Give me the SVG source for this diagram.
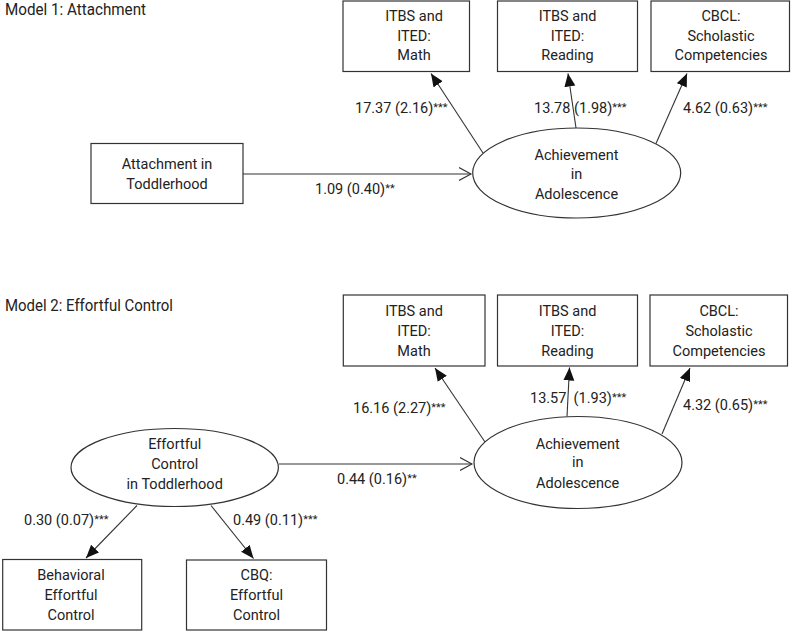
<svg xmlns="http://www.w3.org/2000/svg" width="792" height="631" viewBox="0 0 792 631">
<style>
  text { font-family: Roboto, "Liberation Sans", Arial, sans-serif; font-size: 14.5px; fill: #222; }
  .c { text-anchor: middle; }
  .title { font-size: 16px; }
  .s { font-size: 11px; }
  .box { fill: #fff; stroke: #333; stroke-width: 1.2; }
  .ell { fill: #fff; stroke: #333; stroke-width: 1.2; }
  .edge { stroke: #333; stroke-width: 1.1; fill: none; }
</style>
<defs>
  <marker id="tri" markerUnits="userSpaceOnUse" markerWidth="14" markerHeight="12" refX="13" refY="5.5" orient="auto">
    <path d="M0,0 L13,5.5 L0,11 z" fill="#111"/>
  </marker>
  <marker id="chev" markerUnits="userSpaceOnUse" markerWidth="14" markerHeight="15" refX="12.5" refY="7" orient="auto">
    <path d="M0.5,0.5 L12.5,7 L0.5,13.5" fill="none" stroke="#333" stroke-width="1.1"/>
  </marker>
</defs>
<rect width="792" height="631" fill="#fff"/>

<text x="5" y="15" class="title" textLength="141" lengthAdjust="spacingAndGlyphs">Model 1: Attachment</text>
<text x="5" y="311" class="title" textLength="168" lengthAdjust="spacingAndGlyphs">Model 2: Effortful Control</text>

<g id="connectors">
  <!-- Model 1 -->
  <line class="edge" x1="243" y1="174" x2="471" y2="174" marker-end="url(#chev)"/>
  <line class="edge" x1="483" y1="153" x2="431" y2="73.5" marker-end="url(#tri)"/>
  <line class="edge" x1="576" y1="128" x2="568" y2="73.5" marker-end="url(#tri)"/>
  <line class="edge" x1="656" y1="143.5" x2="687" y2="73.5" marker-end="url(#tri)"/>
  <!-- Model 2 -->
  <line class="edge" x1="279" y1="464" x2="472" y2="464" marker-end="url(#chev)"/>
  <line class="edge" x1="485" y1="442" x2="435" y2="368" marker-end="url(#tri)"/>
  <line class="edge" x1="567" y1="416.5" x2="569.5" y2="367.5" marker-end="url(#tri)"/>
  <line class="edge" x1="662" y1="434" x2="690" y2="368" marker-end="url(#tri)"/>
  <line class="edge" x1="137" y1="505.5" x2="86" y2="558" marker-end="url(#tri)"/>
  <line class="edge" x1="211" y1="505.5" x2="253.5" y2="558.5" marker-end="url(#tri)"/>
</g>

<g id="labels">
  <text x="315" y="194">1.09 (0.40)<tspan class="s" dy="-2">**</tspan></text>
  <text x="355" y="112.5">17.37 (2.16)<tspan class="s" dy="-2">***</tspan></text>
  <text x="534" y="112.5">13.78 (1.98)<tspan class="s" dy="-2">***</tspan></text>
  <text x="683" y="112.5">4.62 (0.63)<tspan class="s" dy="-2">***</tspan></text>
  <text x="337" y="484">0.44 (0.16)<tspan class="s" dy="-2">**</tspan></text>
  <text x="353" y="412.5">16.16 (2.27)<tspan class="s" dy="-2">***</tspan></text>
  <text x="530" y="402.5" xml:space="preserve">13.57  (1.93)<tspan class="s" dy="-2">***</tspan></text>
  <text x="683" y="410">4.32 (0.65)<tspan class="s" dy="-2">***</tspan></text>
  <text x="24" y="525">0.30 (0.07)<tspan class="s" dy="-2">***</tspan></text>
  <text x="233" y="525">0.49 (0.11)<tspan class="s" dy="-2">***</tspan></text>
</g>

<!-- Model 1 nodes -->
<g id="m1-attachment">
  <rect class="box" x="91" y="143.5" width="152" height="60"/>
  <text class="c" x="167" y="168.5">Attachment in</text>
  <text class="c" x="167" y="188.5">Toddlerhood</text>
</g>
<g id="m1-achievement">
  <ellipse class="ell" cx="576.7" cy="173" rx="104" ry="45"/>
  <text class="c" x="576.5" y="159.5">Achievement</text>
  <text class="c" x="576.5" y="179">in</text>
  <text class="c" x="576.5" y="198.5">Adolescence</text>
</g>
<g id="m1-math">
  <rect class="box" x="343" y="1" width="126.5" height="70.5"/>
  <text class="c" x="414" y="21">ITBS and</text>
  <text class="c" x="414" y="40.5">ITED:</text>
  <text class="c" x="414" y="60">Math</text>
</g>
<g id="m1-reading">
  <rect class="box" x="497.5" y="1" width="140" height="70.5"/>
  <text class="c" x="567.5" y="21">ITBS and</text>
  <text class="c" x="567.5" y="40.5">ITED:</text>
  <text class="c" x="567.5" y="60">Reading</text>
</g>
<g id="m1-cbcl">
  <rect class="box" x="651" y="1" width="138.5" height="70.5"/>
  <text class="c" x="721" y="21">CBCL:</text>
  <text class="c" x="721" y="40.5">Scholastic</text>
  <text class="c" x="721" y="60">Competencies</text>
</g>

<!-- Model 2 nodes -->
<g id="m2-effortful">
  <ellipse class="ell" cx="174.7" cy="467.5" rx="103.7" ry="39"/>
  <text class="c" x="174.7" y="448.5">Effortful</text>
  <text class="c" x="174.7" y="468.5">Control</text>
  <text class="c" x="174.7" y="488.5">in Toddlerhood</text>
</g>
<g id="m2-achievement">
  <ellipse class="ell" cx="578" cy="462.5" rx="104" ry="46"/>
  <text class="c" x="577.7" y="448.5">Achievement</text>
  <text class="c" x="577.7" y="467">in</text>
  <text class="c" x="577.7" y="487.5">Adolescence</text>
</g>
<g id="m2-math">
  <rect class="box" x="343.3" y="295" width="141.7" height="71"/>
  <text class="c" x="414" y="316">ITBS and</text>
  <text class="c" x="414" y="335.7">ITED:</text>
  <text class="c" x="414" y="356">Math</text>
</g>
<g id="m2-reading">
  <rect class="box" x="497.5" y="295" width="140" height="71"/>
  <text class="c" x="567.5" y="316">ITBS and</text>
  <text class="c" x="567.5" y="335.7">ITED:</text>
  <text class="c" x="567.5" y="356">Reading</text>
</g>
<g id="m2-cbcl">
  <rect class="box" x="650" y="295" width="137.5" height="71"/>
  <text class="c" x="719" y="316">CBCL:</text>
  <text class="c" x="719" y="335.7">Scholastic</text>
  <text class="c" x="719" y="356">Competencies</text>
</g>
<g id="m2-behavioral">
  <rect class="box" x="2.7" y="559.5" width="139" height="70.5"/>
  <text class="c" x="71" y="580">Behavioral</text>
  <text class="c" x="71" y="600">Effortful</text>
  <text class="c" x="71" y="620">Control</text>
</g>
<g id="m2-cbq">
  <rect class="box" x="186.5" y="560" width="140" height="70"/>
  <text class="c" x="256.5" y="580">CBQ:</text>
  <text class="c" x="256.5" y="600">Effortful</text>
  <text class="c" x="256.5" y="620">Control</text>
</g>
</svg>
